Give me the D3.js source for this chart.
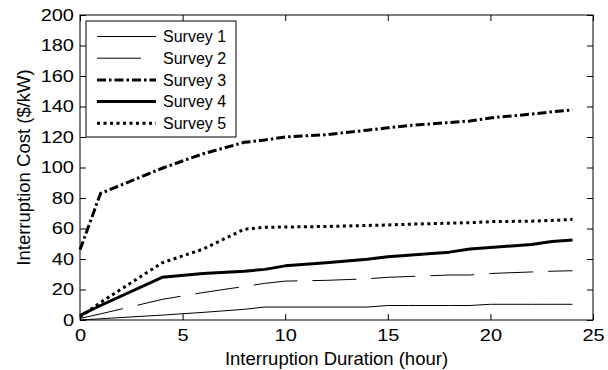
<!DOCTYPE html>
<html>
<head>
<meta charset="utf-8">
<script src="https://cdn.jsdelivr.net/npm/d3@7"></script>
<style>
  body { margin: 0; background: #fff; }
  text { font-family: "Liberation Sans", Arial, sans-serif; fill: #000; }
</style>
</head>
<body>
<div id="container"></div>
<script>
//chart data
var hours = [0, 1, 4, 6, 8, 9, 10, 12, 14, 15, 16, 18, 19, 20, 22, 23, 24];
var survey1 = [0, 0.8, 3.2, 5, 7, 8.5, 8.5, 8.5, 8.5, 9.5, 9.5, 9.5, 9.5, 10.3, 10.3, 10.3, 10.3];
var survey2 = [1, 4, 13.5, 18, 22, 24, 25.5, 26, 27, 28, 28.5, 29.5, 29.5, 30.5, 31.5, 32, 32.3];
var survey3 = [46, 83, 99.5, 109, 116.5, 118, 120, 121.5, 124.5, 126, 127.5, 129.5, 130.5, 132.5, 135, 136.5, 137.7];
var survey4 = [3, 9.5, 28, 30.5, 32, 33.2, 35.5, 37.5, 39.8, 41.5, 42.5, 44.5, 46.5, 47.5, 49.5, 51.5, 52.5];
var survey5 = [2, 11.5, 37.5, 46.5, 59.5, 60.8, 61, 61.3, 62, 62.3, 62.8, 63.5, 63.8, 64.5, 64.8, 65.3, 66];
var seriesNames = ["Survey 1", "Survey 2", "Survey 3", "Survey 4", "Survey 5"];
var xTicks = [0, 5, 10, 15, 20, 25];
var yTicks = [0, 20, 40, 60, 80, 100, 120, 140, 160, 180, 200];

//line look for each survey
var lineStyles = [
    {width: 1, dash: null},
    {width: 1, dash: "44,15"},
    {width: 3, dash: "9,3,2.5,3"},
    {width: 3, dash: null},
    {width: 3, dash: "3,3.5"}
];

var width = 608,
    height = 370,
    margin = {top: 15, right: 15, bottom: 50, left: 80};

var svg = d3.select("#container")
    .append("svg")
    .attr("width", width)
    .attr("height", height);

var x = d3.scaleLinear()
    .domain([0, 25])
    .range([margin.left, width - margin.right]);

var y = d3.scaleLinear()
    .domain([0, 200])
    .range([height - margin.bottom, margin.top]);

//stretch tick labels wider like the original export
function stretch(sel, k) {
    sel.each(function () {
        var w = this.getComputedTextLength();
        this.setAttribute("textLength", w * k);
        this.setAttribute("lengthAdjust", "spacingAndGlyphs");
    });
}

//bottom axis, ticks pointing inward
var xAxis = svg.append("g")
    .attr("transform", "translate(0," + y(0) + ")")
    .call(d3.axisBottom(x).tickValues(xTicks).tickSizeInner(-6).tickSizeOuter(0).tickPadding(10));
xAxis.selectAll("text").style("font-size", "16px");
stretch(xAxis.selectAll("text"), 1.25);

var yAxis = svg.append("g")
    .attr("transform", "translate(" + x(0) + ",0)")
    .call(d3.axisLeft(y).tickValues(yTicks).tickSizeInner(-6).tickSizeOuter(0).tickPadding(6));
yAxis.selectAll("text").style("font-size", "16px");
stretch(yAxis.selectAll("text"), 1.25);

//top and right ticks only
svg.append("g")
    .attr("transform", "translate(0," + y(200) + ")")
    .call(d3.axisTop(x).tickValues(xTicks).tickSizeInner(-6).tickSizeOuter(0).tickFormat(""));
svg.append("g")
    .attr("transform", "translate(" + x(25) + ",0)")
    .call(d3.axisRight(y).tickValues(yTicks).tickSizeInner(-6).tickSizeOuter(0).tickFormat(""));

svg.selectAll(".domain").remove();
svg.selectAll(".tick line").attr("stroke", "#000");

//plot frame
svg.append("rect")
    .attr("x", x(0))
    .attr("y", y(200))
    .attr("width", x(25) - x(0))
    .attr("height", y(0) - y(200))
    .attr("fill", "none")
    .attr("stroke", "#000")
    .attr("stroke-width", 1);

//the survey lines
var allSeries = [survey1, survey2, survey3, survey4, survey5];

var line = d3.line()
    .x(function (d, i) { return x(hours[i]); })
    .y(function (d) { return y(d); });

svg.selectAll(".survey")
    .data(allSeries)
    .enter()
    .append("path")
    .attr("class", "survey")
    .attr("d", line)
    .attr("fill", "none")
    .attr("stroke", "#000")
    .attr("stroke-width", function (d, i) { return lineStyles[i].width; })
    .attr("stroke-dasharray", function (d, i) { return lineStyles[i].dash; })
    .attr("stroke-linejoin", "round");

//legend box
var legend = svg.append("g");

legend.append("rect")
    .attr("x", 86)
    .attr("y", 21)
    .attr("width", 150)
    .attr("height", 116)
    .attr("fill", "#fff")
    .attr("stroke", "#000")
    .attr("stroke-width", 1);

var rows = legend.selectAll(".row")
    .data(seriesNames)
    .enter()
    .append("g")
    .attr("class", "row")
    .attr("transform", function (d, i) { return "translate(0," + (36.5 + i * 21.7) + ")"; });

rows.append("line")
    .attr("x1", 97)
    .attr("x2", 156)
    .attr("y1", 0)
    .attr("y2", 0)
    .attr("stroke", "#000")
    .attr("stroke-width", function (d, i) { return lineStyles[i].width; })
    .attr("stroke-dasharray", function (d, i) { return lineStyles[i].dash; });

rows.append("text")
    .attr("x", 163)
    .attr("y", 5.8)
    .style("font-size", "16px")
    .text(function (d) { return d; });

//axis titles
svg.append("text")
    .attr("x", (x(0) + x(25)) / 2)
    .attr("y", 365)
    .attr("text-anchor", "middle")
    .style("font-size", "18.5px")
    .text("Interruption Duration (hour)");

svg.append("text")
    .attr("transform", "translate(30," + ((y(0) + y(200)) / 2) + ") rotate(-90)")
    .attr("text-anchor", "middle")
    .style("font-size", "18.5px")
    .text("Interruption Cost ($/kW)");
</script>
</body>
</html>
